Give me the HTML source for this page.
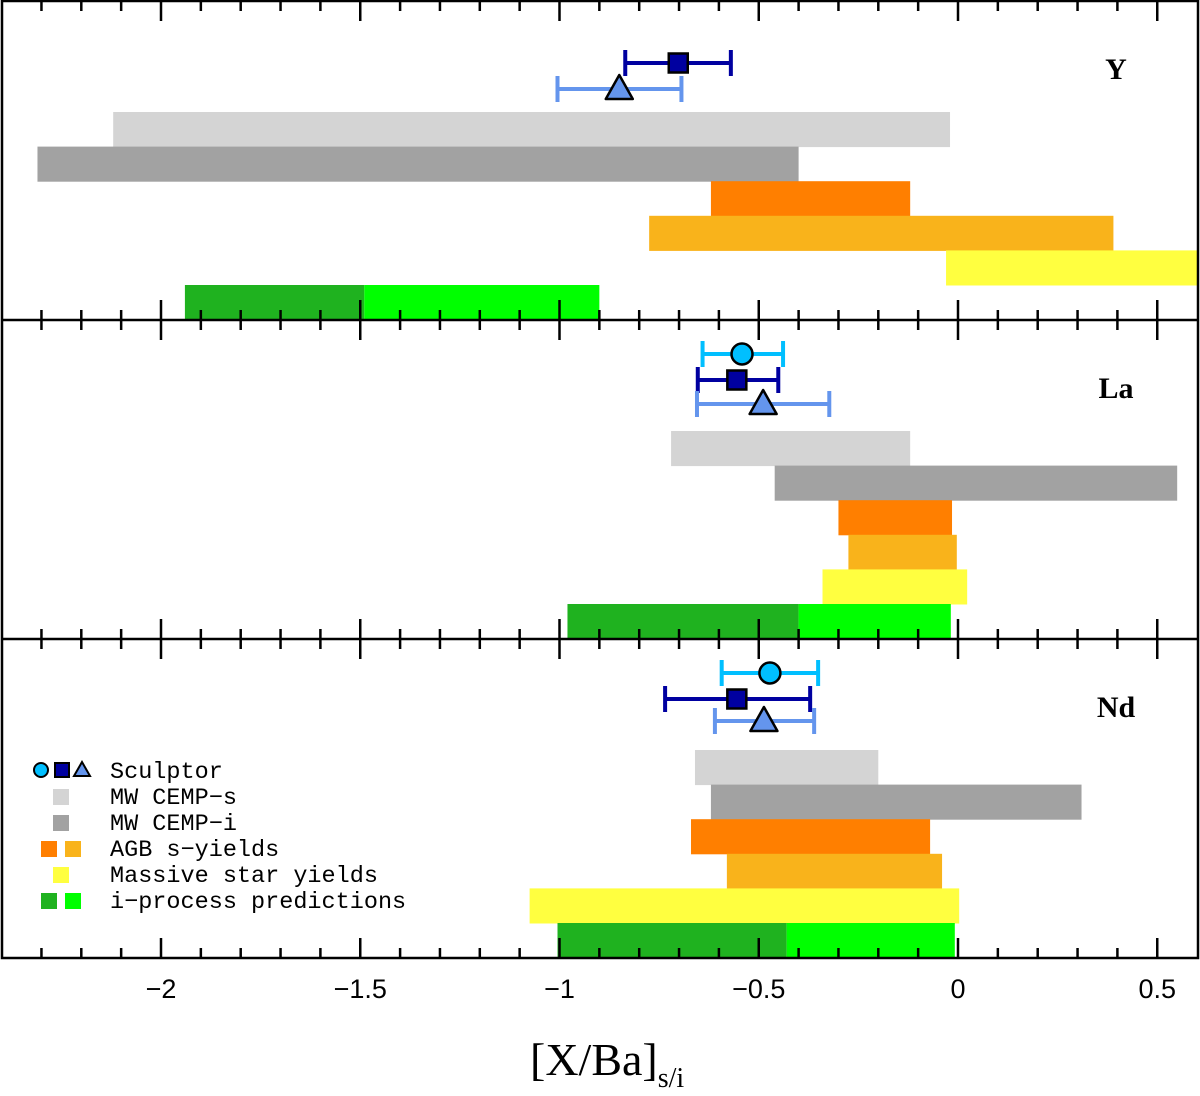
<!DOCTYPE html>
<html><head><meta charset="utf-8"><style>
html,body{margin:0;padding:0;background:#fff;}
svg{display:block;}
</style></head><body>
<svg id="chart" width="1200" height="1096" xmlns="http://www.w3.org/2000/svg"></svg>
<script>
const panels = ["Y", "La", "Nd"];
// bar series [start,end] per panel
const cempS = [[-2.12,-0.02],[-0.72,-0.12],[-0.66,-0.20]];
const cempI = [[-2.31,-0.40],[-0.46,0.55],[-0.62,0.31]];
const agbA = [[-0.62,-0.12],[-0.30,-0.015],[-0.67,-0.07]];
const agbB = [[-0.775,0.39],[-0.275,-0.003],[-0.58,-0.04]];
const massive = [[-0.03,0.62],[-0.34,0.023],[-1.075,0.003]];
const iproc = [[-1.94,-1.49,-0.90],[-0.98,-0.40,-0.018],[-1.005,-0.43,-0.008]];
// observations [value, low, high] (null if absent)
const circleObs = [null,[-0.542,-0.641,-0.439],[-0.472,-0.593,-0.351]];
const squareObs = [[-0.702,-0.835,-0.57],[-0.555,-0.653,-0.451],[-0.555,-0.735,-0.371]];
const triObs = [[-0.85,-1.005,-0.694],[-0.489,-0.655,-0.323],[-0.487,-0.61,-0.361]];
const circleY = [null,34,34];
const squareY = [62,60,60];
const triY = [88,84,82];
const tickLabels = [-2,-1.5,-1,-0.5,0,0.5];

const NS="http://www.w3.org/2000/svg";
const svg=document.getElementById('chart');
const L=2,R=1198,T=1,B=958;
const X=v=>958+398.5*v;
const PH=(B-T)/3;
const PT=i=>T+i*PH;
function mk(tag,attrs,parent){const e=document.createElementNS(NS,tag);for(const k in attrs)e.setAttribute(k,attrs[k]);(parent||svg).appendChild(e);return e;}

const plot=mk('g',{});


const clip=mk('clipPath',{id:'cp'});mk('rect',{x:L,y:T,width:R-L,height:B-T},clip);
const bars=mk('g',{'clip-path':'url(#cp)'},plot);

const rowH=34.6;
function bar(p,row,a,b,color,name){
  const y=PT(p)+111+row*rowH;
  const r=mk('rect',{x:X(a),y:y,width:X(b)-X(a),height:rowH+0.5,fill:color},bars);
  
  
}
for(let p=0;p<3;p++){
  bar(p,0,cempS[p][0],cempS[p][1],'#d4d4d4','bar-mw-cemp-s-'+panels[p]);
  bar(p,1,cempI[p][0],cempI[p][1],'#a2a2a2','bar-mw-cemp-i-'+panels[p]);
  bar(p,2,agbA[p][0],agbA[p][1],'#ff7f00','bar-agb-a-'+panels[p]);
  bar(p,3,agbB[p][0],agbB[p][1],'#f9b31b','bar-agb-b-'+panels[p]);
  bar(p,4,massive[p][0],massive[p][1],'#ffff40','bar-massive-'+panels[p]);
  bar(p,5,iproc[p][0],iproc[p][1],'#1fb21f','bar-iproc-a-'+panels[p]);
  bar(p,5,iproc[p][1],iproc[p][2],'#00ff00','bar-iproc-b-'+panels[p]);
}
function errbar(p,obs,yy,color,shape,name){
  if(!obs)return;
  const y=PT(p)+yy;
  const g=mk('g',{},plot);
  
  
  mk('line',{x1:X(obs[1]),x2:X(obs[2]),y1:y,y2:y,stroke:color,'stroke-width':4},g);
  mk('line',{x1:X(obs[1]),x2:X(obs[1]),y1:y-13,y2:y+13,stroke:color,'stroke-width':4},g);
  mk('line',{x1:X(obs[2]),x2:X(obs[2]),y1:y-13,y2:y+13,stroke:color,'stroke-width':4},g);
  const cx=X(obs[0]);
  if(shape==='c')mk('circle',{cx:cx,cy:y,r:10.5,fill:color,stroke:'#000','stroke-width':2.5},g);
  else if(shape==='s')mk('rect',{x:cx-9.5,y:y-9.5,width:19,height:19,fill:color,stroke:'#000','stroke-width':2.5},g);
  else mk('polygon',{points:`${cx},${y-14} ${cx-13.5},${y+10} ${cx+13.5},${y+10}`,fill:color,stroke:'#000','stroke-width':2.5,'stroke-linejoin':'round'},g);
}
for(let p=0;p<3;p++){
  errbar(p,circleObs[p],circleY[p],'#00bfff','c','sculptor-circle-'+panels[p]);
  errbar(p,squareObs[p],squareY[p],'#0000a0','s','sculptor-square-'+panels[p]);
  errbar(p,triObs[p],triY[p],'#6495ed','t','sculptor-triangle-'+panels[p]);
  const t=mk('text',{x:1116,y:PT(p)+78,'font-family':'Liberation Serif, serif','font-size':30,'font-weight':'bold','text-anchor':'middle'},plot);
  t.textContent=panels[p];
  
  
}
// frame and separators
const ax=mk('g',{stroke:'#000','stroke-width':2.5,fill:'none'},plot);


mk('rect',{x:L,y:T,width:R-L,height:B-T},ax);
mk('line',{x1:L,x2:R,y1:PT(1),y2:PT(1)},ax);
mk('line',{x1:L,x2:R,y1:PT(2),y2:PT(2)},ax);
for(let k=-24;k<=6;k++){
  const v=k/10,x=X(v);if(x<L+2||x>R-2)continue;
  const len=(k%5===0)?20:10;
  mk('line',{x1:x,x2:x,y1:T,y2:T+len},ax);
  mk('line',{x1:x,x2:x,y1:B,y2:B-len},ax);
  mk('line',{x1:x,x2:x,y1:PT(1)-len,y2:PT(1)+len},ax);
  mk('line',{x1:x,x2:x,y1:PT(2)-len,y2:PT(2)+len},ax);
}
tickLabels.forEach(v=>{
  const t=mk('text',{x:X(v),y:998,'font-family':'Liberation Sans, sans-serif','font-size':27,'text-anchor':'middle'},plot);
  t.textContent=(v<0?'\u2212'+(-v):String(v));
  
  
});
const xt=mk('text',{x:530,y:1075,'font-family':'Liberation Serif, serif','font-size':46},plot);


xt.innerHTML='[X/Ba]<tspan font-size="28" dy="12">s/i</tspan>';

// legend
const lg=mk('g',{},plot);


const ly=[770,796,822,848,874,900];
mk('circle',{cx:41,cy:770,r:7,fill:'#00bfff',stroke:'#000','stroke-width':2},lg);
mk('rect',{x:55,y:763,width:14,height:14,fill:'#0000a0',stroke:'#000','stroke-width':2},lg);
mk('polygon',{points:'82,762 74,776 90,776',fill:'#6495ed',stroke:'#000','stroke-width':2},lg);
mk('rect',{x:53,y:789,width:16,height:16,fill:'#d4d4d4'},lg);
mk('rect',{x:53,y:815,width:16,height:16,fill:'#a2a2a2'},lg);
mk('rect',{x:41,y:841,width:16,height:16,fill:'#ff7f00'},lg);
mk('rect',{x:65,y:841,width:16,height:16,fill:'#f9b31b'},lg);
mk('rect',{x:53,y:867,width:16,height:16,fill:'#ffff40'},lg);
mk('rect',{x:41,y:893,width:16,height:16,fill:'#1fb21f'},lg);
mk('rect',{x:65,y:893,width:16,height:16,fill:'#00ff00'},lg);
const labs=['Sculptor','MW CEMP\u2212s','MW CEMP\u2212i','AGB s\u2212yields','Massive star yields','i\u2212process predictions'];
labs.forEach((s,i)=>{
  const t=mk('text',{x:110,y:ly[i]+8,'font-family':'Liberation Mono, monospace','font-size':23.5},lg);
  t.textContent=s;
  
  
});
</script>
</body></html>
